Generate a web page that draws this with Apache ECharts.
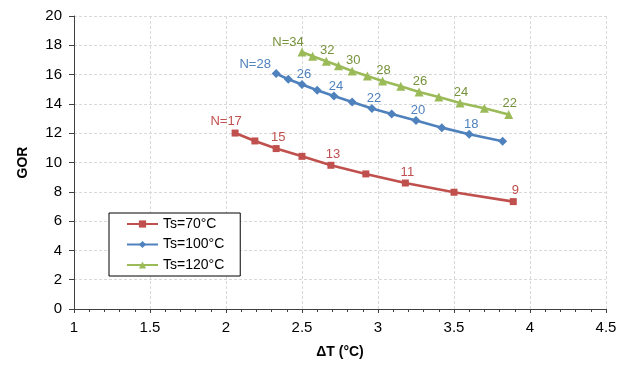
<!DOCTYPE html>
<html>
<head>
<meta charset="utf-8">
<script src="https://cdn.jsdelivr.net/npm/echarts@6/dist/echarts.min.js"></script>
<style>
html,body{margin:0;padding:0;background:#fff;}
#c{width:627px;height:365px;}
</style>
</head>
<body>
<div id="c"></div>
<script>
// ---- data ----
const seriesNames = ['Ts=70°C', 'Ts=100°C', 'Ts=120°C'];
const xTicks = [1, 1.5, 2, 2.5, 3, 3.5, 4, 4.5];
const yTicks = [0, 2, 4, 6, 8, 10, 12, 14, 16, 18, 20];

const dT70  = [2.06, 2.19, 2.33, 2.50, 2.69, 2.92, 3.18, 3.50, 3.89];
const gor70 = [12.01, 11.47, 10.95, 10.42, 9.81, 9.22, 8.60, 7.97, 7.33];
const lab70 = ['N=17', '', '15', '', '13', '', '11', '', '9'];

const dT100  = [2.33, 2.41, 2.50, 2.60, 2.71, 2.83, 2.96, 3.09, 3.25, 3.42, 3.60, 3.82];
const gor100 = [16.07, 15.68, 15.32, 14.93, 14.54, 14.13, 13.68, 13.31, 12.86, 12.38, 11.93, 11.45];
const lab100 = ['N=28', '', '26', '', '24', '', '22', '', '20', '', '18', ''];

const dT120  = [2.50, 2.57, 2.66, 2.74, 2.83, 2.93, 3.03, 3.15, 3.27, 3.40, 3.54, 3.70, 3.86];
const gor120 = [17.54, 17.25, 16.91, 16.61, 16.25, 15.90, 15.56, 15.20, 14.81, 14.47, 14.06, 13.70, 13.27];
const lab120 = ['N=34', '', '32', '', '30', '', '28', '', '26', '', '24', '', '22'];

// ---- styles ----
const FONT = '"Liberation Sans", Arial, sans-serif';
const styles = [
  {color: '#C0504D', labelColor: '#C0504D', symbol: 'rect', size: 7, off: [2, -11], firstOff: [-9, -12]},
  {color: '#4F81BD', labelColor: '#4F81BD', symbol: 'diamond', size: 9, off: [2, -10], firstOff: [-21, -9]},
  {color: '#9BBB59', labelColor: '#76923C', symbol: 'triangle', size: 9, off: [1, -11], firstOff: [-14, -10]}
];
const xs = [dT70, dT100, dT120];
const ys = [gor70, gor100, gor120];
const labs = [lab70, lab100, lab120];

function buildSeries(i) {
  const st = styles[i];
  const data = xs[i].map((x, k) => {
    const item = {value: [x, ys[i][k]]};
    if (labs[i][k]) {
      item.label = {
        show: true,
        formatter: labs[i][k],
        position: 'inside',
        offset: k === 0 ? st.firstOff : st.off,
        color: st.labelColor,
        fontSize: 13,
        fontFamily: FONT
      };
    }
    return item;
  });
  return {
    name: seriesNames[i],
    type: 'line',
    data: data,
    symbol: st.symbol,
    symbolSize: st.size,
    showAllSymbol: true,
    itemStyle: {color: st.color},
    lineStyle: {color: st.color, width: 2.6},
    label: {show: false},
    emphasis: {disabled: true},
    animation: false,
    z: 2 + i
  };
}

const chart = echarts.init(document.getElementById('c'), null, {renderer: 'canvas'});
chart.setOption({
  animation: false,
  backgroundColor: '#fff',
  grid: {left: 74, right: 21, top: 16, bottom: 56, containLabel: false},
  xAxis: {
    type: 'value',
    min: xTicks[0], max: xTicks[xTicks.length - 1], interval: 0.5,
    name: 'ΔT (°C)', nameLocation: 'middle', nameGap: 36,
    nameTextStyle: {fontFamily: FONT, fontSize: 14, fontWeight: 'bold', color: '#000'},
    axisLine: {show: true, onZero: false, lineStyle: {color: '#404040', width: 1}},
    axisTick: {show: true, inside: false, length: 4, lineStyle: {color: '#404040'}},
    minorTick: {show: true, splitNumber: 5, length: 3, lineStyle: {color: '#404040'}},
    axisLabel: {fontFamily: FONT, fontSize: 15, color: '#000', margin: 11},
    splitLine: {show: true, lineStyle: {color: '#D9D9D9', type: [3, 2], width: 1}}
  },
  yAxis: {
    type: 'value',
    min: yTicks[0], max: yTicks[yTicks.length - 1], interval: 2,
    name: 'GOR', nameLocation: 'middle', nameGap: 44,
    nameTextStyle: {fontFamily: FONT, fontSize: 14, fontWeight: 'bold', color: '#000'},
    axisLine: {show: true, onZero: false, lineStyle: {color: '#404040', width: 1}},
    axisTick: {show: true, inside: false, length: 5, lineStyle: {color: '#404040'}},
    axisLabel: {fontFamily: FONT, fontSize: 15, color: '#000', margin: 12},
    splitLine: {show: true, lineStyle: {color: '#D9D9D9', type: [3, 2], width: 1}}
  },
  legend: {
    show: true,
    data: seriesNames,
    orient: 'vertical',
    left: 109, top: 213,
    backgroundColor: '#fff',
    borderColor: '#000', borderWidth: 1,
    padding: [4, 16, 4, 17],
    itemWidth: 31, itemHeight: 9, itemGap: 6.5,
    textStyle: {fontFamily: FONT, fontSize: 14, color: '#000'}
  },
  series: [buildSeries(0), buildSeries(1), buildSeries(2)]
});
</script>
</body>
</html>
